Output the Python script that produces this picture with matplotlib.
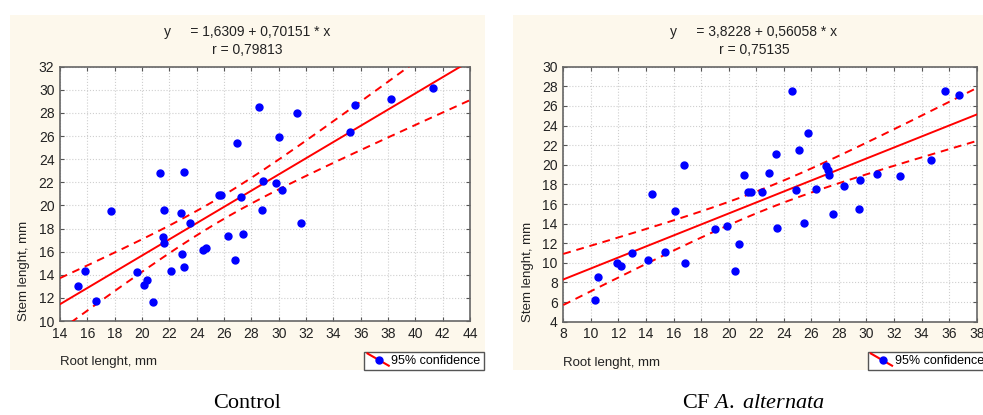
import numpy as np
import matplotlib
matplotlib.use('Agg')
from matplotlib import pyplot as plt
from matplotlib.lines import Line2D
from matplotlib.patches import Rectangle
from matplotlib.legend_handler import HandlerBase

plt.rcParams['font.family'] = ['Liberation Sans', 'DejaVu Sans']
plt.rcParams['mathtext.fontset'] = 'custom'
plt.rcParams['mathtext.rm'] = 'Liberation Serif'
plt.rcParams['mathtext.it'] = 'Liberation Serif:italic'

# control: root length vs stem length (mm)
ctrl_root = [15.31, 15.84, 16.67, 17.76, 19.6, 20.18, 20.33, 20.84, 21.30, 21.59,
             21.52, 21.59, 22.10, 22.85, 23.09, 22.92, 23.09, 23.5, 24.47, 24.69,
             25.64, 25.8, 26.32, 26.82, 26.94, 27.28, 27.41, 28.59, 28.86, 28.81,
             29.83, 30.0, 30.27, 31.31, 31.6, 35.21, 35.62, 38.24, 41.30]
ctrl_stem = [13.04, 14.36, 11.74, 19.48, 14.27, 13.09, 13.58, 11.65, 22.82, 19.57,
             17.24, 16.78, 14.36, 19.31, 22.91, 15.80, 14.71, 18.45, 16.17, 16.32,
             20.92, 20.92, 17.32, 15.31, 25.44, 20.69, 17.5, 28.49, 22.13, 19.57,
             21.93, 25.96, 21.32, 27.97, 18.45, 26.39, 28.66, 29.18, 30.16]
ctrl_coef = (1.6309, 0.70151)
ctrl_r = '0,79813'

# CF A. alternata
alt_root = [10.30, 10.50, 11.93, 12.19, 13.02, 14.18, 14.45, 15.39, 16.07, 16.78,
            16.85, 19.0, 19.90, 20.44, 20.73, 21.09, 21.41, 21.65, 22.42, 22.96,
            23.44, 23.49, 24.63, 24.87, 25.14, 25.45, 25.75, 26.33, 27.06, 27.18,
            27.30, 27.59, 28.39, 29.48, 29.53, 30.79, 32.46, 34.69, 35.68, 36.75]
alt_stem = [6.17, 8.52, 9.98, 9.64, 11.0, 10.25, 16.98, 11.07, 15.32, 19.97,
            9.98, 13.48, 13.72, 9.16, 11.95, 18.95, 17.22, 17.22, 17.22, 19.16,
            21.09, 13.58, 27.48, 17.39, 21.5, 14.09, 23.27, 17.53, 19.87, 19.43,
            18.95, 14.98, 17.83, 15.45, 18.44, 19.06, 18.82, 20.48, 27.48, 27.11]
alt_coef = (3.8228, 0.56058)
alt_r = '0,75135'


class DiagHandler(HandlerBase):
    # red line drawn corner to corner with a blue dot in the middle
    def create_artists(self, legend, orig, xd, yd, w, h, fontsize, trans):
        ln = Line2D([-xd, -xd + w], [-yd + h + 1, -yd - 1.5], color='red', lw=1.5)
        dot = Line2D([-xd + w * 0.55], [-yd + h * 0.4], marker='o', color='blue', ms=5, ls='')
        ln.set_transform(trans)
        dot.set_transform(trans)
        return [ln, dot]


def panel(fig, rect, bg, root, stem, coef, r, xlim, ylim, xticks, yticks, caption, leg_anchor, leg_loc):
    fig.add_artist(Rectangle((bg[0] / 983, 1 - bg[3] / 415), (bg[2] - bg[0]) / 983,
                             (bg[3] - bg[1]) / 415, transform=fig.transFigure,
                             facecolor='#fdf8ec', edgecolor='none', zorder=0))
    ax = fig.add_axes(rect)
    x = np.array(root)
    y = np.array(stem)
    b0, b1 = coef
    n = len(x)
    s = np.sqrt(np.sum((y - (b0 + b1 * x)) ** 2) / (n - 2))
    sxx = np.sum((x - x.mean()) ** 2)
    xx = np.linspace(xlim[0], xlim[1], 200)
    yy = b0 + b1 * xx
    half = 2.02 * s * np.sqrt(1 / n + (xx - x.mean()) ** 2 / sxx)
    ax.plot(xx, yy, color='red', lw=1.4, zorder=3)
    ax.plot(xx, yy + half, color='red', lw=1.4, ls=(0, (4, 3)), zorder=3)
    ax.plot(xx, yy - half, color='red', lw=1.4, ls=(0, (4, 3)), zorder=3)
    ax.plot(x, y, 'o', color='blue', ms=5, zorder=4)
    ax.set_xlim(xlim)
    ax.set_ylim(ylim)
    ax.set_xticks(xticks)
    ax.set_yticks(yticks)
    ax.grid(True, color='#cfcfcf', ls=':', lw=0.8)
    ax.set_axisbelow(True)
    ax.tick_params(direction='in', length=3, top=True, right=True, labelsize=10,
                   labelcolor='#222222', color='#555555', pad=4)
    for sp in ax.spines.values():
        sp.set_color('#666666')
        sp.set_linewidth(1.2)
    ax.set_xlabel('Root lenght, mm', loc='left', fontsize=9.5, labelpad=11, color='#222222')
    ax.set_ylabel('Stem lenght, mm', loc='bottom', fontsize=9.5, labelpad=6, color='#222222')
    cx = (bg[0] + bg[2]) / 2 / 983
    fig.text(cx, 1 - 32 / 415, 'y     = %s + %s * x' % (str(b0).replace('.', ','), str(b1).replace('.', ',')),
             ha='center', va='center', fontsize=10, color='#222222')
    fig.text(cx, 1 - 50 / 415, 'r = ' + r, ha='center', va='center', fontsize=10, color='#222222')
    fig.text(cx, 1 - 403 / 415, caption, ha='center', va='center', fontsize=16,
             family='Liberation Serif')
    h = Line2D([], [], color='red', marker='o', mfc='blue')
    leg = fig.legend([h], ['95% confidence'], handler_map={Line2D: DiagHandler()},
                     loc=leg_loc, bbox_to_anchor=leg_anchor, fontsize=9, frameon=True,
                     fancybox=False, framealpha=1, edgecolor='#555555', borderpad=0.25,
                     handlelength=1.7, handletextpad=0.2, borderaxespad=0)
    leg.get_frame().set_linewidth(1.0)
    return ax


fig = plt.figure(figsize=(9.83, 4.15), dpi=100)
panel(fig, [60 / 983, 94 / 415, 410 / 983, 254.3 / 415], (10, 15, 485, 370),
      ctrl_root, ctrl_stem, ctrl_coef, ctrl_r, (14, 44), (10, 32),
      range(14, 45, 2), range(10, 33, 2), 'Control', (483.5 / 983, 1 - 351.5 / 415), 'upper right')
panel(fig, [563.3 / 983, 93.3 / 415, 413.4 / 983, 255 / 415], (513, 15, 995, 370),
      alt_root, alt_stem, alt_coef, alt_r, (8, 38), (4, 30),
      range(8, 39, 2), range(4, 31, 2), r'CF $\mathit{A.\ alternata}$',
      (867.7 / 983, 1 - 351.5 / 415), 'upper left')
fig.savefig('out.png', dpi=100)
